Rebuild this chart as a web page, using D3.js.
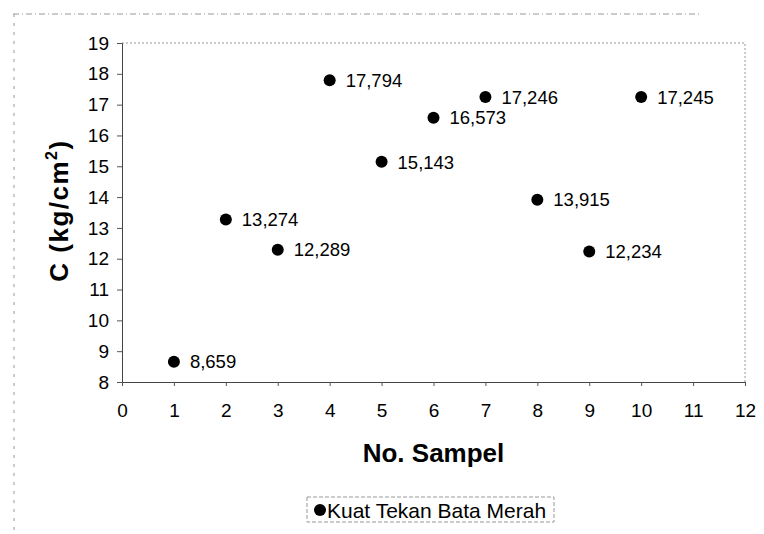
<!DOCTYPE html>
<html><head><meta charset="utf-8">
<script src="https://cdn.jsdelivr.net/npm/d3@7"></script>
<style>body{margin:0;background:#fff}svg{display:block}text{font-family:"Liberation Sans",Arial,sans-serif;fill:#000}</style>
</head><body>
<svg id="c" width="764" height="534"></svg>
<script>
const samples = [1,2,3,4,5,6,7,8,9,10];
const values = [8.659,13.274,12.289,17.794,15.143,16.573,17.246,13.915,12.234,17.245];
const valueLabels = ["8,659","13,274","12,289","17,794","15,143","16,573","17,246","13,915","12,234","17,245"];
const xTicks = [0,1,2,3,4,5,6,7,8,9,10,11,12];
const yTicks = [8,9,10,11,12,13,14,15,16,17,18,19];
const seriesName = "Kuat Tekan Bata Merah";

const svg = d3.select("#c");
const L=122,R=745,T=43,B=382;
const x = d3.scaleLinear().domain([0,12]).range([L,R]);
const y = d3.scaleLinear().domain([8,19]).range([B,T]);

svg.append("line").attr("x1",13).attr("x2",700).attr("y1",14).attr("y2",14)
  .attr("stroke","#999").attr("stroke-dasharray","6,3,1,3");
svg.append("line").attr("x1",14).attr("x2",14).attr("y1",14).attr("y2",530)
  .attr("stroke","#999").attr("stroke-dasharray","3,6");

svg.append("path").attr("d",`M${L},${T}H${R}V${B}`).attr("fill","none")
  .attr("stroke","#999").attr("stroke-dasharray","2,2");

const yAxis = d3.axisLeft(y).tickValues(yTicks).tickSize(5).tickPadding(8).tickFormat(d3.format("d"));
const gy = svg.append("g").attr("transform",`translate(${L},0)`).call(yAxis);
const xAxis = d3.axisBottom(x).tickValues(xTicks).tickSize(4).tickPadding(18).tickFormat(d3.format("d"));
const gx = svg.append("g").attr("transform",`translate(0,${B})`).call(xAxis);
[gy,gx].forEach(g=>{
  g.select(".domain").attr("stroke","#444");
  g.selectAll(".tick line").attr("stroke","#555");
  g.selectAll("text").attr("font-size",19).attr("font-family","Liberation Sans, Arial, sans-serif");
});

svg.selectAll("circle.pt").data(samples).join("circle").attr("class","pt")
  .attr("cx",(d)=>x(d)).attr("cy",(d,i)=>y(values[i])).attr("r",6).attr("fill","#000");
svg.selectAll("text.lbl").data(samples).join("text").attr("class","lbl")
  .attr("x",(d)=>x(d)+16).attr("y",(d,i)=>y(values[i])).attr("dy","0.36em")
  .attr("font-size",18.5).text((d,i)=>valueLabels[i]);

svg.append("text").attr("x",(L+R)/2).attr("y",462).attr("text-anchor","middle")
  .attr("font-size",26).attr("font-weight","bold").text("No. Sampel");
const yt = svg.append("text").attr("transform",`translate(68,${(T+B)/2-2}) rotate(-90)`)
  .attr("text-anchor","middle").attr("font-size",26).attr("font-weight","bold").attr("letter-spacing",1.5);
yt.append("tspan").text("C (kg/cm");
yt.append("tspan").attr("font-size",16).attr("dy",-11).text("2");
yt.append("tspan").attr("dy",11).text(")");

const lg = svg.append("g");
lg.append("rect").attr("x",307).attr("y",497).attr("width",247).attr("height",25)
  .attr("fill","none").attr("stroke","#999").attr("stroke-dasharray","4,2");
lg.append("circle").attr("cx",320).attr("cy",510).attr("r",6).attr("fill","#000");
lg.append("text").attr("x",327).attr("y",510).attr("dy","0.36em").attr("font-size",21).text(seriesName);
</script>
</body></html>
